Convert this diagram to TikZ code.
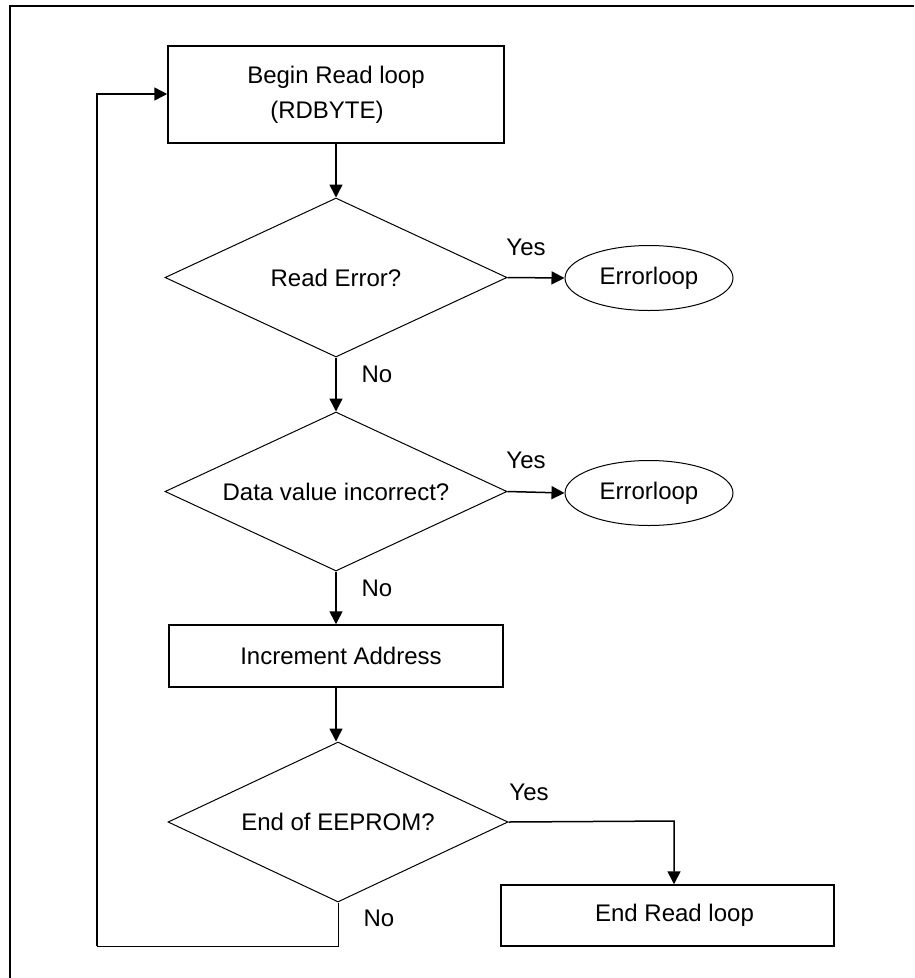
\documentclass[tikz,border=0pt]{standalone}
\usepackage{fontspec}
\setmainfont{Liberation Sans}
\usetikzlibrary{shapes.geometric,arrows.meta}
\begin{document}
\begin{tikzpicture}[x=1pt,y=-1pt,
  every node/.style={font=\fontsize{24}{35}\selectfont},
  boxnode/.style={draw,line width=1.5pt,rectangle,inner sep=0pt,align=center},
  decnode/.style={draw,line width=1pt,diamond,inner sep=0pt,aspect=2.15},
  ovalnode/.style={draw,line width=1pt,ellipse,inner sep=0pt,minimum width=168pt,minimum height=65pt},
  lbl/.style={inner sep=0pt},
  tip/.style={-{Triangle[length=13pt,width=13pt]}},
  flow/.style={line width=1.5pt,tip},
  plain/.style={line width=1pt}]
\useasboundingbox (0,0) rectangle (914,978);
% frame
\draw[line width=1.5pt] (914,6) -- (10,6) -- (10,978);
% nodes
\node[boxnode,minimum width=336pt,minimum height=97pt] (begin) at (336,94.5) {Begin Read loop\\(RDBYTE)\hspace*{18pt}};
\node[decnode,minimum width=342pt,minimum height=159pt] (d1) at (336,277.5) {Read Error?};
\node[ovalnode] (e1) at (649,278) {Errorloop};
\node[decnode,minimum width=342pt,minimum height=159pt] (d2) at (336,491.5) {Data value incorrect?};
\node[ovalnode] (e2) at (649,493) {Errorloop};
\node[boxnode,minimum width=334pt,minimum height=62pt] (inc) at (336,656) {\hspace*{10pt}Increment Address};
\node[decnode,minimum width=340pt,minimum height=160pt] (d3) at (338,822) {End of EEPROM?};
\node[boxnode,minimum width=333pt,minimum height=61pt] (endb) at (667.5,915.5) {\hspace*{14pt}End Read loop};
\coordinate (yturn) at (674,821);
\coordinate (nturn2) at (97,946);
\coordinate (nturn3) at (97,94);
% labels
\node[lbl] (y1) at (526,247) {Yes};
\node[lbl] (y2) at (526,460) {Yes};
\node[lbl] (y3) at (529,792) {Yes};
\node[lbl] (n1) at (377,374) {No};
\node[lbl] (n2) at (377,588) {No};
\node[lbl] (n3) at (379,918) {No};
% connectors
\draw[flow] (begin.south) -- (d1.north);
\draw[flow] (d1.east) -- (e1.west);
\draw[flow] (d1.south) -- (d2.north);
\draw[flow] (d2.east) -- (e2.west);
\draw[flow] (d2.south) -- (inc.north);
\draw[flow] (inc.south) -- (inc.south |- d3.north);
\draw[flow] (d3.east) -- (yturn) -- (yturn |- endb.north);
\draw[plain] (d3.south) -- (d3.south |- nturn2) -- (nturn2);
\draw[flow] (nturn2) -- (nturn3) -- (nturn3 -| begin.west);
\end{tikzpicture}
\end{document}
